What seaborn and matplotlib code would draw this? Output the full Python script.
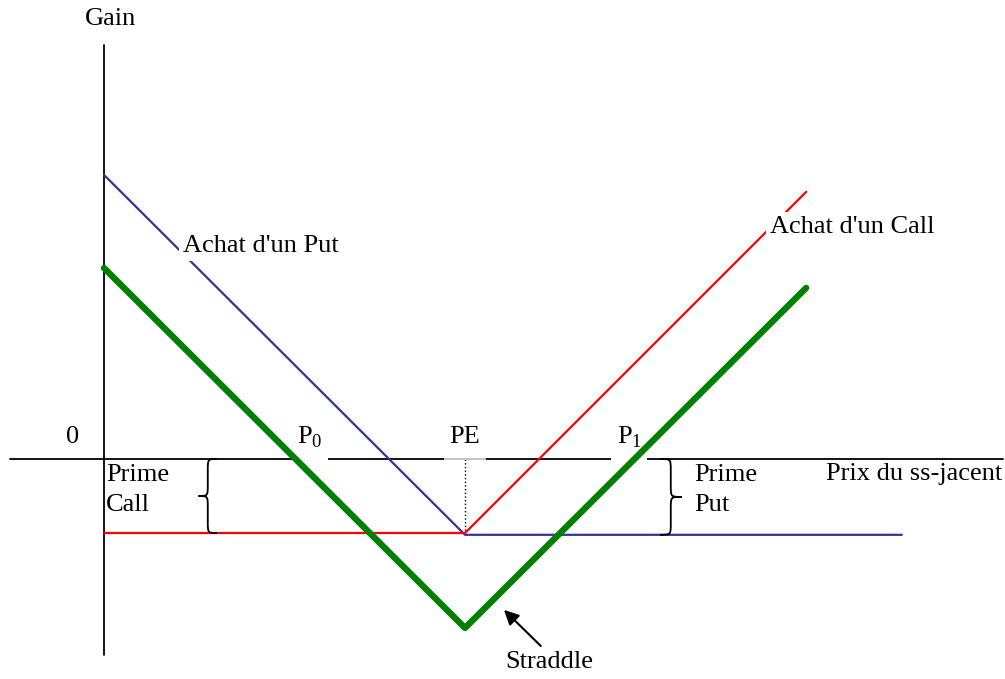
import matplotlib
matplotlib.use("Agg")
import matplotlib.pyplot as plt
import numpy as np
import pandas as pd
import seaborn as sns
from matplotlib.path import Path
from matplotlib.patches import PathPatch

# %% data (price on x, gain on y; strike = 10)
strike = 10.0
prime_call = -2.05
prime_put = -2.1

put_x = [0.0, 10.0, 22.1]
put_y = [7.87, -2.1, -2.1]

call_x = [0.0, 10.0, 19.45]
call_y = [-2.05, -2.05, 7.40]

straddle_x = [0.0, 10.0, 19.45]
straddle_y = [5.29, -4.68, 4.74]

x_axis = [-2.6, 24.9]
y_axis = [-5.43, 11.47]

lines = pd.concat(
    [
        pd.DataFrame({"prix": put_x, "gain": put_y, "pos": "put"}),
        pd.DataFrame({"prix": call_x, "gain": call_y, "pos": "call"}),
    ]
)
straddle = pd.DataFrame({"prix": straddle_x, "gain": straddle_y})

sns.set_style("white")
plt.rcParams["font.family"] = ["Liberation Serif", "DejaVu Serif"]
plt.rcParams["text.color"] = "black"
plt.rcParams["mathtext.fontset"] = "custom"
plt.rcParams["mathtext.rm"] = "Liberation Serif"
fs = 19

fig = plt.figure(figsize=(10.05, 6.79), dpi=100)
ax = fig.add_axes([0, 0, 1, 1])

# axes drawn by hand
ax.plot(x_axis, [0, 0], color="black", lw=1.3, zorder=1)
ax.plot([0, 0], y_axis, color="black", lw=1.3, zorder=1)

sns.lineplot(
    data=lines, x="prix", y="gain", hue="pos",
    palette={"put": "#333399", "call": "#ff0000"},
    estimator=None, sort=False, lw=1.6, legend=False, ax=ax, zorder=3,
)
sns.lineplot(
    data=straddle, x="prix", y="gain", color="#008000",
    estimator=None, sort=False, lw=4.6, ax=ax, zorder=4,
)
ax.set_xlim(-104 / 36.1, (1005 - 104) / 36.1)
ax.set_ylim((459 - 679) / 36.1, 459 / 36.1)
ax.axis("off")

# dotted line at strike
ax.plot([strike, strike], [0, prime_call], color="black", lw=1.0, ls=":", zorder=2)


def brace(ax, x_arm, x_tip, y0, y1, r=0.32):
    xm = (x_arm + x_tip) / 2
    ym = (y0 + y1) / 2
    verts = [
        (x_arm, y1), (xm, y1), (xm, y1), (xm, y1 - r),
        (xm, ym + r),
        (xm, ym), (xm, ym), (x_tip, ym),
        (xm, ym), (xm, ym), (xm, ym - r),
        (xm, y0 + r),
        (xm, y0), (xm, y0), (x_arm, y0),
    ]
    codes = [Path.MOVETO, Path.CURVE4, Path.CURVE4, Path.CURVE4,
             Path.LINETO,
             Path.CURVE4, Path.CURVE4, Path.CURVE4,
             Path.CURVE4, Path.CURVE4, Path.CURVE4,
             Path.LINETO,
             Path.CURVE4, Path.CURVE4, Path.CURVE4]
    ax.add_patch(PathPatch(Path(verts, codes), fill=False, lw=1.3,
                           edgecolor="black", zorder=3))


brace(ax, 3.13, 2.62, prime_call, 0)
brace(ax, 15.4, 16.0, prime_put, 0)

# label boxes: narrow sideways, tall enough to hide the axis below
white = dict(boxstyle="square,pad=0.2", mutation_aspect=2.3,
             facecolor="white", edgecolor="none")
ax.text(0.19, 12.19, "Gain", fontsize=fs, ha="center", va="center")
ax.text(-0.86, 0.61, "0", fontsize=fs, ha="center", va="center")
ax.text(5.35, 0.61, r"P$_\mathrm{0}$", fontsize=fs, ha="left", va="center",
        bbox=white, zorder=2)
ax.text(strike, 0.61, "PE", fontsize=fs, ha="center", va="center",
        bbox=dict(white, alpha=0.75), zorder=2)
ax.text(14.2, 0.61, r"P$_\mathrm{1}$", fontsize=fs, ha="left", va="center",
        bbox=white, zorder=2)
ax.text(0.06, -0.86, "Prime\nCall", fontsize=fs, ha="left", va="center",
        linespacing=1.5)
ax.text(16.34, -0.86, "Prime\nPut", fontsize=fs, ha="left", va="center",
        linespacing=1.5)
ax.text(20.0, -0.42, "Prix du ss-jacent", fontsize=fs, ha="left", va="center")
ax.text(2.19, 5.9, "Achat d'un Put", fontsize=fs, ha="left", va="center",
        bbox=dict(boxstyle="square,pad=0.15", facecolor="white", edgecolor="none"),
        zorder=5)
ax.text(18.45, 6.43, "Achat d'un Call", fontsize=fs, ha="left", va="center",
        bbox=dict(boxstyle="square,pad=0.15", facecolor="white", edgecolor="none"),
        zorder=5)
ax.text(12.33, -5.62, "Straddle", fontsize=fs, ha="center", va="center")
ax.annotate("", xy=(11.08, -4.18), xytext=(12.1, -5.18),
            arrowprops=dict(arrowstyle="-|>", color="black", lw=1.5,
                            mutation_scale=22, shrinkA=0, shrinkB=0))

plt.savefig("out.png", dpi=100)
